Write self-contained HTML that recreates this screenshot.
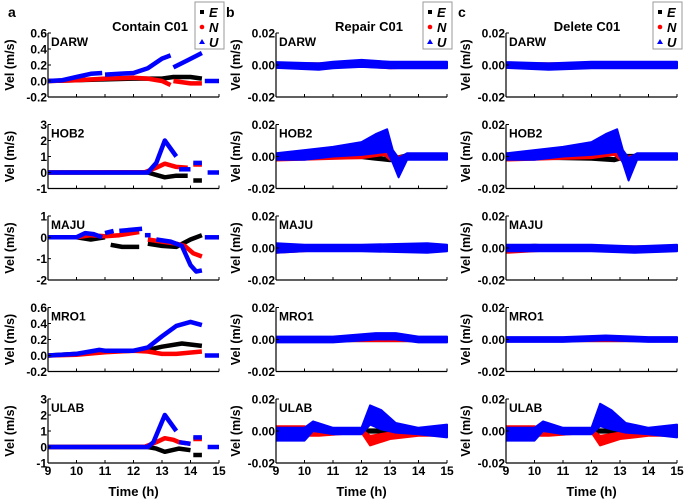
<!DOCTYPE html>
<html><head><meta charset="utf-8"><style>
body{margin:0;background:#fff;}
svg{display:block;font-family:"Liberation Sans",sans-serif;font-weight:bold;}
</style></head><body>
<svg id="chart" width="685" height="501" viewBox="0 0 685 501"></svg>
<script>
// ---- data ----
const stations = ["DARW","HOB2","MAJU","MRO1","ULAB"];
const colTitles = ["Contain C01","Repair C01","Delete C01"];
const panelLetters = ["a","b","c"];
const xTicks = [9,10,11,12,13,14,15];
const yRangeA = [[-0.2,0.6],[-1,3],[-2,1],[-0.2,0.6],[-1,3]];
const yTicksA = [[-0.2,0,0.2,0.4,0.6],[-1,0,1,2,3],[-2,-1,0,1],[-0.2,0,0.2,0.4,0.6],[-1,0,1,2,3]];
const yTickLabelsA = [["-0.2","0.0","0.2","0.4","0.6"],["-1","0","1","2","3"],["-2","-1","0","1"],["-0.2","0.0","0.2","0.4","0.6"],["-1","0","1","2","3"]];
const yRangeBC = [-0.02,0.02];
const yTicksBC = [-0.02,0,0.02];
const yTickLabelsBC = ["-0.02","0.00","0.02"];

// Column a: segments of [time, value]
const aDARW_E = [[[9,0],[11,0.02],[12,0.03],[13,0.03],[13.4,0.05],[14,0.05],[14.4,0.03]]];
const aDARW_N = [[[9,0],[10,0.01],[11,0.03],[12,0.04],[12.5,0.03],[13,0.0],[13.3,-0.05]],[[13.4,0.0],[14,-0.03],[14.4,-0.03]]];
const aDARW_U = [[[9,0],[9.5,0.01],[10,0.05],[10.5,0.09],[10.9,0.1]],[[11,0.08],[11.5,0.09],[12,0.1],[12.5,0.16],[13,0.28],[13.3,0.32]],[[13.4,0.17],[13.9,0.26],[14.4,0.35]],[[14.5,0],[15,0]]];
const aHOB2_E = [[[9,0],[12.5,0],[12.8,-0.15],[13.1,-0.3],[13.5,-0.2],[13.9,-0.2]],[[14.1,-0.5],[14.4,-0.5]]];
const aHOB2_N = [[[9,0],[12.4,0.02],[12.8,0.3],[13.1,0.55],[13.5,0.35],[13.9,0.3]],[[14.1,0.5],[14.4,0.5]]];
const aHOB2_U = [[[9,0],[12.5,0],[12.8,0.6],[13.1,2.0],[13.5,1.0]],[[13.6,0.2],[14.0,0.2]],[[14.1,0.6],[14.4,0.6]],[[14.6,0],[15,0]]];
const aMAJU_E = [[[9,0],[10,0],[10.5,-0.1],[11,0]],[[11.2,-0.35],[11.6,-0.45],[12.2,-0.45]],[[12.5,-0.3],[13,-0.4],[13.5,-0.45],[14,-0.1],[14.4,0.1]]];
const aMAJU_N = [[[9,0],[10,0],[10.5,0.1],[11,0.05],[11.5,0.1],[12.2,0.25]],[[12.5,-0.1],[13,-0.2],[13.5,-0.3],[13.8,-0.4],[14.1,-0.75],[14.4,-0.9]]];
const aMAJU_U = [[[9,0],[10,0],[10.3,0.2],[10.6,0.15],[10.9,0]],[[11,0.2],[11.3,0.3]],[[11.5,0.3],[12.3,0.4]],[[12.4,0.1],[12.6,0.1]],[[12.8,-0.1],[13.3,-0.2],[13.7,-0.4],[14,-1.3],[14.2,-1.6],[14.4,-1.55]],[[14.5,0],[15,0]]];
const aMRO1_E = [[[9,0],[10,0.02],[11,0.05],[12,0.06],[12.5,0.07],[13,0.11],[13.7,0.15],[14.4,0.12]]];
const aMRO1_N = [[[9,0],[10,0.01],[11,0.04],[12,0.06],[12.5,0.05],[13,0.02],[13.5,0.02],[14.4,0.05]]];
const aMRO1_U = [[[9,0],[10,0.02],[10.8,0.07],[11,0.06],[12,0.06],[12.5,0.1],[13,0.24],[13.5,0.37],[14,0.42],[14.4,0.38]],[[14.5,0],[15,0]]];
const aULAB_E = [[[9,0],[12.5,0],[12.8,-0.1],[13.1,-0.3],[13.6,-0.1],[14,-0.2]],[[14.1,-0.5],[14.4,-0.5]]];
const aULAB_N = [[[9,0],[12.4,0.02],[12.8,0.3],[13.1,0.55],[13.4,0.45],[13.6,0.3],[14,0.2]],[[14.1,0.5],[14.4,0.5]]];
const aULAB_U = [[[9,0],[12.5,0],[12.7,0.3],[13.1,2.0],[13.5,1.0]],[[13.6,0.3],[14.0,0.2]],[[14.1,0.6],[14.4,0.6]],[[14.6,0],[15,0]]];

// Columns b/c: [time, center, spread]
const bDARW_E = [[9,0,0.001],[15,0,0.001]];
const bDARW_N = [[9,0,0.001],[12,0,0.001],[13,-0.001,0.001],[15,0,0.001]];
const bDARW_U = [[9,0,0.0018],[10.5,-0.001,0.002],[11,0,0.002],[12,0.001,0.0022],[13,0,0.002],[15,0,0.002]];
const bHOB2_E = [[9,0,0.001],[12,0,0.001],[12.5,-0.001,0.001],[13,-0.002,0.001],[13.5,0,0.001],[15,0,0.001]];
const bHOB2_N = [[9,-0.001,0.0015],[11,0,0.0015],[12,0.001,0.002],[12.8,0.003,0.002],[13,0,0.002],[13.3,-0.002,0.002],[13.6,0,0.001],[15,0,0.001]];
const bHOB2_U = [[9,0,0.002],[10,0.001,0.003],[11,0.003,0.003],[12,0.005,0.004],[12.5,0.008,0.006],[12.9,0.01,0.007],[13.1,0,0.004],[13.3,-0.007,0.006],[13.6,0,0.002],[15,0,0.002]];
const bMAJU_E = [[9,0,0.001],[15,0,0.001]];
const bMAJU_N = [[9,-0.001,0.002],[11,0,0.001],[15,0,0.001]];
const bMAJU_U = [[9,0,0.003],[10,0,0.002],[12,0,0.002],[14.3,0,0.003],[15,0,0.002]];
const bMRO1_E = [[9,0,0.001],[15,0,0.001]];
const bMRO1_N = [[9,0,0.001],[15,0,0.001]];
const bMRO1_U = [[9,0,0.0018],[11,0,0.0018],[12.5,0.002,0.002],[13.2,0.002,0.002],[14,0,0.0018],[15,0,0.0018]];
const bULAB_E = [[9,0,0.001],[15,0,0.001]];
const bULAB_N = [[9,0,0.003],[10,0,0.003],[10.5,-0.002,0.001],[12,0,0.001],[12.3,-0.006,0.003],[13,-0.003,0.002],[14,-0.001,0.002],[15,0,0.003]];
const bULAB_U = [[9,-0.002,0.004],[10,-0.002,0.004],[10.3,0.003,0.003],[11,0,0.002],[12,0,0.002],[12.3,0.01,0.006],[12.7,0.007,0.006],[13.2,0.002,0.003],[14,0,0.002],[15,0,0.004]];

const cDARW_E = [[9,0,0.001],[15,0,0.001]];
const cDARW_N = [[9,0,0.001],[15,0,0.001]];
const cDARW_U = [[9,0,0.0018],[10.5,-0.001,0.002],[12,0,0.002],[15,0,0.002]];
const cHOB2_E = [[9,0,0.001],[12,-0.001,0.001],[12.8,-0.002,0.001],[13.2,0,0.001],[15,0,0.001]];
const cHOB2_N = [[9,-0.001,0.0015],[11,0,0.0015],[12,0.001,0.002],[12.8,0.004,0.003],[13,0,0.002],[13.3,-0.002,0.002],[13.6,0,0.001],[15,0,0.001]];
const cHOB2_U = [[9,0,0.002],[10,0.001,0.003],[11,0.003,0.003],[12,0.005,0.004],[12.5,0.008,0.006],[12.9,0.01,0.007],[13.1,0,0.004],[13.3,-0.008,0.007],[13.6,0,0.002],[15,0,0.002]];
const cMAJU_E = [[9,0,0.001],[10,0.001,0.001],[11,0,0.001],[15,0,0.001]];
const cMAJU_N = [[9,-0.001,0.002],[11,0,0.001],[15,0,0.001]];
const cMAJU_U = [[9,0,0.002],[12,0,0.002],[13.5,-0.001,0.002],[15,0,0.002]];
const cMRO1_E = [[9,0,0.001],[15,0,0.001]];
const cMRO1_N = [[9,0,0.001],[15,0,0.001]];
const cMRO1_U = [[9,0,0.0015],[11,0,0.0015],[12.5,0.001,0.0015],[14,0,0.0015],[15,0,0.0015]];
const cULAB_E = [[9,0,0.001],[15,0,0.001]];
const cULAB_N = [[9,0,0.003],[10,0,0.003],[10.5,-0.002,0.001],[12,0,0.001],[12.3,-0.006,0.003],[13,-0.003,0.002],[14,-0.001,0.002],[15,0,0.003]];
const cULAB_U = [[9,-0.002,0.004],[10,-0.002,0.004],[10.3,0.003,0.003],[11,0,0.002],[12,0,0.002],[12.3,0.01,0.007],[12.7,0.007,0.006],[13.2,0.002,0.003],[14,0,0.002],[15,0,0.004]];

const aData = [[aDARW_E,aDARW_N,aDARW_U],[aHOB2_E,aHOB2_N,aHOB2_U],[aMAJU_E,aMAJU_N,aMAJU_U],[aMRO1_E,aMRO1_N,aMRO1_U],[aULAB_E,aULAB_N,aULAB_U]];
const bData = [[bDARW_E,bDARW_N,bDARW_U],[bHOB2_E,bHOB2_N,bHOB2_U],[bMAJU_E,bMAJU_N,bMAJU_U],[bMRO1_E,bMRO1_N,bMRO1_U],[bULAB_E,bULAB_N,bULAB_U]];
const cData = [[cDARW_E,cDARW_N,cDARW_U],[cHOB2_E,cHOB2_N,cHOB2_U],[cMAJU_E,cMAJU_N,cMAJU_U],[cMRO1_E,cMRO1_N,cMRO1_U],[cULAB_E,cULAB_N,cULAB_U]];

// ---- layout ----
const colX = [48,276,506], W = 171;
const rowY = [33,124.5,216,307.5,399], H = 64;
const colors = ["#000","#f00","#00f"];
const compNames = ["e","n","u"];
const titleX = [150,369,587];
const ylabX = [10,236,466];
const letterX = [8,226,458];
const svg = document.getElementById('chart');
const NS = "http://www.w3.org/2000/svg";
function mk(tag, attrs, parent){const e=document.createElementNS(NS,tag);for(const k in attrs)e.setAttribute(k,attrs[k]);(parent||svg).appendChild(e);return e;}
function xs(c,t){return colX[c]+(t-9)/6*W;}
function ys(r,v,rng){return rowY[r]+H-(v-rng[0])/(rng[1]-rng[0])*H;}

for(let c=0;c<3;c++){
  let t=mk('text',{x:letterX[c],y:17,'font-size':14});t.textContent=panelLetters[c];
  
  
  t=mk('text',{x:titleX[c],y:31,'font-size':13,'text-anchor':'middle'});t.textContent=colTitles[c];
  
  
  for(let r=0;r<5;r++){
    const g=mk('g',{});
    
    
    const rng = c===0? yRangeA[r] : yRangeBC;
    const ticks = c===0? yTicksA[r] : yTicksBC;
    const tl = c===0? yTickLabelsA[r] : yTickLabelsBC;
    const clipId='cl'+c+r;
    const cp=mk('clipPath',{id:clipId},g);mk('rect',{x:colX[c],y:rowY[r]-2,width:W+2,height:H+4},cp);
    const dg=mk('g',{'clip-path':'url(#'+clipId+')'},g);
    const data = c===0? aData[r] : (c===1? bData[r] : cData[r]);
    for(let k=0;k<3;k++){
      if(c===0){
        data[k].forEach((seg,si)=>{
          const pts=seg.map(p=>xs(c,p[0]).toFixed(1)+','+ys(r,p[1],rng).toFixed(1)).join(' ');
          const pl=mk('polyline',{points:pts,fill:'none',stroke:colors[k],'stroke-width':4.5,'stroke-linejoin':'round'},dg);
          
          
        });
      } else {
        const s=data[k];
        const up=s.map(p=>xs(c,p[0]).toFixed(1)+','+ys(r,p[1]+p[2],rng).toFixed(1));
        const dn=s.slice().reverse().map(p=>xs(c,p[0]).toFixed(1)+','+ys(r,p[1]-p[2],rng).toFixed(1));
        const pg=mk('polygon',{points:up.concat(dn).join(' '),fill:colors[k],stroke:colors[k],'stroke-width':2,'stroke-linejoin':'round'},dg);
        
        
      }
    }
    // axes
    mk('line',{x1:colX[c],y1:rowY[r],x2:colX[c],y2:rowY[r]+H,stroke:'#000','stroke-width':1.2},g);
    mk('line',{x1:colX[c],y1:rowY[r]+H,x2:colX[c]+W,y2:rowY[r]+H,stroke:'#000','stroke-width':1.2},g);
    xTicks.forEach(tv=>{mk('line',{x1:xs(c,tv),y1:rowY[r]+H,x2:xs(c,tv),y2:rowY[r]+H-3,stroke:'#000','stroke-width':1},g);});
    ticks.forEach((tv,i)=>{
      const y=ys(r,tv,rng);
      mk('line',{x1:colX[c],y1:y,x2:colX[c]+3,y2:y,stroke:'#000','stroke-width':1},g);
      const tt=mk('text',{x:colX[c]-1,y:y+4.5,'font-size':12,'text-anchor':'end'},g);tt.textContent=tl[i];
      
      
    });
    const st=mk('text',{x:colX[c]+3,y:rowY[r]+13,'font-size':12},g);st.textContent=stations[r];
    
    
    const yl=mk('text',{x:0,y:0,'font-size':12.5,'text-anchor':'middle',transform:'translate('+(ylabX[c]+4)+','+(rowY[r]+H/2)+') rotate(-90)'},g);yl.textContent='Vel (m/s)';
    
    
    if(r===4){
      xTicks.forEach(tv=>{const xt=mk('text',{x:xs(c,tv),y:rowY[r]+H+12,'font-size':12,'text-anchor':'middle'},g);xt.textContent=tv;
        
        });
      const xl=mk('text',{x:colX[c]+W/2,y:496,'font-size':13,'text-anchor':'middle'},g);xl.textContent='Time  (h)';
      
      
    }
  }
  // legend
  const lg=mk('g',{});
  
  
  const lx=colX[c]+147;
  mk('rect',{x:lx,y:2,width:29,height:47,fill:'#fff',stroke:'#999','stroke-width':1},lg);
  const labs=['E','N','U'];
  for(let k=0;k<3;k++){
    const yy=13+k*15;
    if(k===0) mk('rect',{x:lx+5,y:yy-3,width:4,height:4,fill:'#000'},lg);
    if(k===1) mk('circle',{cx:lx+7,cy:yy-1,r:2.3,fill:'#f00'},lg);
    if(k===2) mk('polygon',{points:(lx+4)+','+(yy+1)+' '+(lx+10)+','+(yy+1)+' '+(lx+7)+','+(yy-4),fill:'#00f'},lg);
    const et=mk('text',{x:lx+14,y:yy+4,'font-size':13,'font-style':'italic'},lg);et.textContent=labs[k];
    
    
  }
}
</script>
</body></html>
